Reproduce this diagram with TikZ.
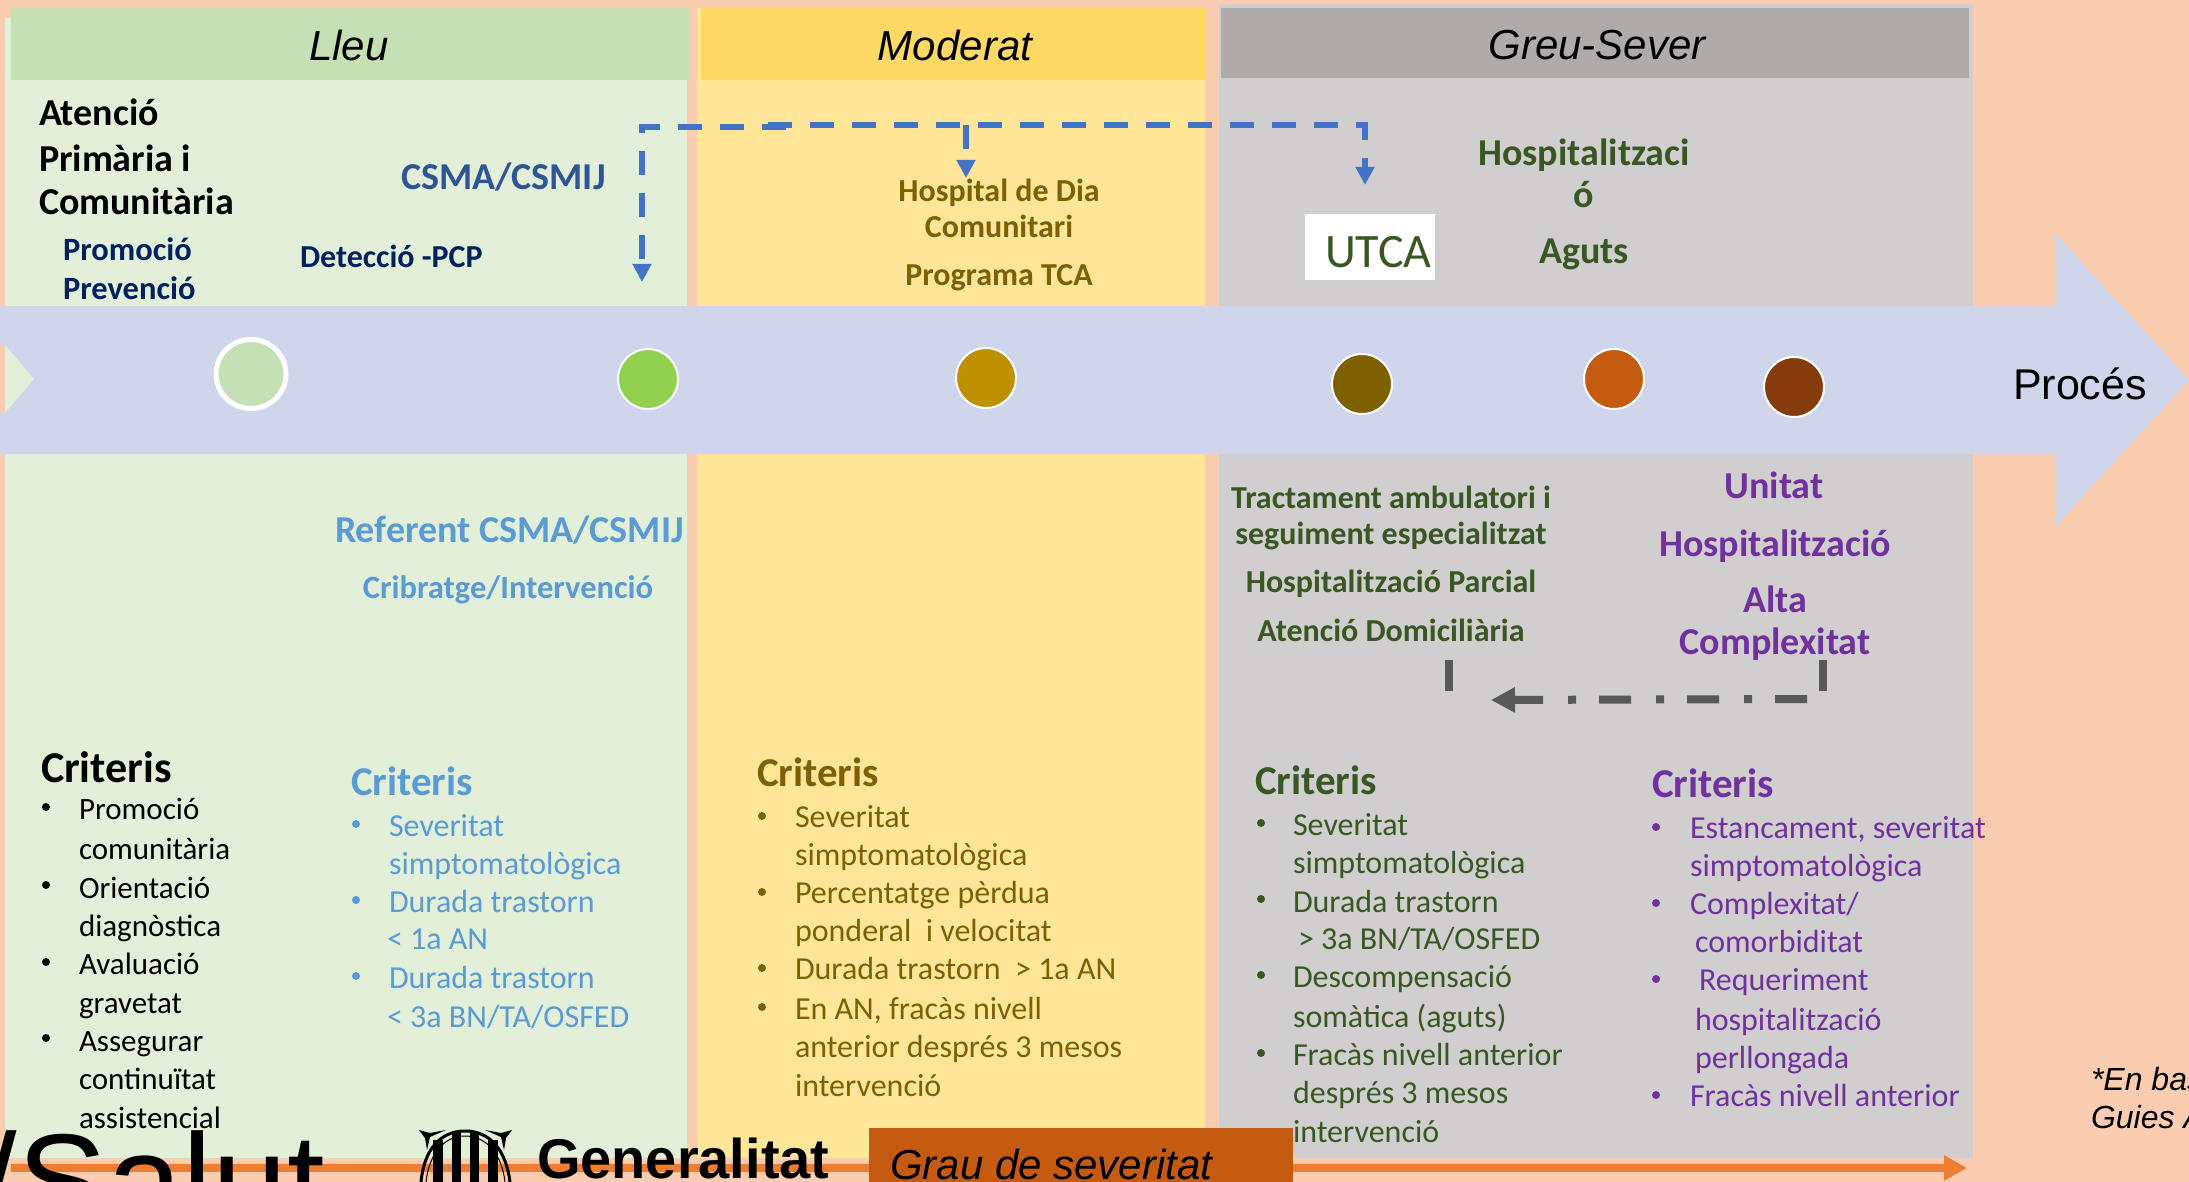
\documentclass[tikz,border=0pt]{standalone}
\usepackage{fontspec}
\setmainfont{Carlito}
\newfontfamily\arialf{Liberation Sans}
\usetikzlibrary{arrows.meta,calc,shapes.geometric}
\definecolor{bgpeach}{HTML}{FBCDB0}
\definecolor{lleuhead}{HTML}{C5E0B4}
\definecolor{lleubody}{HTML}{E2EFD9}
\definecolor{modhead}{HTML}{FFD966}
\definecolor{modbody}{HTML}{FFE699}
\definecolor{greuhead}{HTML}{AFABAB}
\definecolor{greubody}{HTML}{D0CECE}
\definecolor{band}{HTML}{CFD5EA}
\definecolor{navy}{HTML}{002060}
\definecolor{midblue}{HTML}{2F5597}
\definecolor{skyb}{HTML}{5B9BD5}
\definecolor{dashb}{HTML}{4472C4}
\definecolor{olive}{HTML}{7F6000}
\definecolor{dgreen}{HTML}{385723}
\definecolor{purp}{HTML}{7030A0}
\definecolor{dgray}{HTML}{595959}
\definecolor{orangeline}{HTML}{ED7D31}
\definecolor{burnt}{HTML}{C55A11}
\definecolor{limeg}{HTML}{92D050}
\definecolor{amberc}{HTML}{BF9000}
\definecolor{brownc}{HTML}{843C0C}
\tikzset{
  x=1pt,y=-1pt,
  base/.style={inner sep=0pt,outer sep=0pt,anchor=base west},
  cbase/.style={inner sep=0pt,outer sep=0pt,anchor=base},
  head/.style={cbase,font=\arialf\itshape\fontsize{42}{42}\selectfont},
  crit/.style={base,text=#1,font=\bfseries\fontsize{41}{41}\selectfont},
  item/.style={base,text=#1,font=\fontsize{32}{32}\selectfont},
  bul/.style={circle,fill=#1,minimum size=8pt,inner sep=0pt,draw=none},
  boldc/.style args={#1/#2}{cbase,text=#1,font=\bfseries\fontsize{#2}{#2}\selectfont},
  boldl/.style args={#1/#2}{base,text=#1,font=\bfseries\fontsize{#2}{#2}\selectfont},
  stage/.style={ellipse,fill=#1,draw=white,line width=2pt,minimum width=60pt,minimum height=60pt,inner sep=0pt},
  flowb/.style={draw=dashb,line width=6.5pt,dash pattern=on 24pt off 18pt},
  tipb/.style={-{Triangle[length=18pt,width=18pt]}},
}
\begin{document}
\begin{tikzpicture}
\useasboundingbox (0,0) rectangle (2189,1182);
\clip (0,0) rectangle (2189,1182);
\fill[bgpeach] (0,0) rectangle (2189,1182);
% panels
\fill[lleubody] (5,18) rectangle (687,1158);
\fill[lleuhead] (11,8) rectangle (689,80);
\fill[modbody] (697,8) rectangle (1205,1158);
\fill[modhead] (701,8) rectangle (1205,80);
\fill[greubody] (1219,4) rectangle (1973,1158);
\fill[greuhead] (1221,8) rectangle (1969,78);
% process band
\fill[band] (0,306) -- (2055,306) -- (2055,233) -- (2189,380) -- (2055,527) -- (2055,454) -- (0,454) -- cycle;
\fill[lleubody] (5,345) -- (34,379) -- (5,413) -- cycle;
\fill[bgpeach] (0,345) rectangle (5,413);
% headers
\node[head] (hl) at (349,61) {Lleu};
\node[head] (hm) at (955,61) {Moderat};
\node[head] (hg) at (1597,60) {Greu-Sever};
% stages
\node[ellipse,fill=lleuhead,draw=white,line width=5pt,minimum width=70pt,minimum height=69pt,inner sep=0pt] (s1) at (251,374) {};
\node[stage=limeg] (s2) at (648,379) {};
\node[stage=amberc] (s3) at (986,378) {};
\node[stage=olive] (s4) at (1362,384) {};
\node[stage=burnt] (s5) at (1614,379) {};
\node[stage=brownc] (s6) at (1794,387) {};
% top texts
\node[boldl=black/38] (a1) at (39,126) {Atenció};
\node[boldl=black/38] (a2) at (39,172) {Primària i};
\node[boldl=black/38] (a3) at (39,215) {Comunitària};
\node[boldl=navy/32.5] (p1) at (63,261) {Promoció};
\node[boldl=navy/32.5] (p2) at (63,299) {Prevenció};
\node[boldl=midblue/38] (csma) at (401,190) {CSMA/CSMIJ};
\node[boldl=navy/32] (det) at (300,268) {Detecció -PCP};
\node[boldc=olive/32] (h1) at (999,202) {Hospital de Dia};
\node[boldc=olive/32] (h2) at (999,238) {Comunitari};
\node[boldc=olive/32] (h3) at (999,285) {Programa TCA};
\fill[white] (1305,214) rectangle (1435,280);
\node[base,text=dgreen,font=\fontsize{48}{48}\selectfont] (utca) at (1325,268) {UTCA};
\node[boldc=dgreen/38] (ha1) at (1584,166) {Hospitalitzaci};
\node[boldc=dgreen/38] (ha2) at (1584,208) {ó};
\node[boldc=dgreen/38] (ha3) at (1584,264) {Aguts};
\node[base,font=\arialf\fontsize{43}{43}\selectfont] (proc) at (2013,399) {Procés};
% lower headings
\node[boldl=skyb/38] (r1) at (335,542) {Referent CSMA/CSMIJ};
\node[boldc=skyb/32.5] (r2) at (508,598) {Cribratge/Intervenció};
\node[boldc=dgreen/32] (t1) at (1391,508) {Tractament ambulatori i};
\node[boldc=dgreen/32] (t2) at (1391,544) {seguiment especialitzat};
\node[boldc=dgreen/32] (t3) at (1391,592) {Hospitalització Parcial};
\node[boldc=dgreen/32] (t4) at (1391,641) {Atenció Domiciliària};
\node[boldc=purp/38] (u1) at (1774,498) {Unitat};
\node[boldc=purp/38] (u2) at (1775,556) {Hospitalització};
\node[boldc=purp/38] (u3) at (1775,612) {Alta};
\node[boldc=purp/38] (u4) at (1775,654) {Complexitat};
% criteris black
\node[boldl=black/44] (c1) at (41,782) {Criteris};
\foreach \yy/\tx in {819/{Promoció},859/{comunitària},898/{Orientació},936/{diagnòstica},974/{Avaluació},1013/{gravetat},1051/{Assegurar},1089/{continuïtat},1128/{assistencial}}
  \node[item=black,font=\fontsize{31}{31}\selectfont] at (79,\yy) {\tx};
\foreach \yy in {807,885,962,1038} \node[bul=black] at (46,\yy) {};
% criteris sky
\node[crit=skyb] (c2) at (351,795) {Criteris};
\foreach \yy/\xx/\tx in {836/389/{Severitat},874/389/{simptomatològica},912/389/{Durada trastorn},949/387/{< 1a AN},988/389/{Durada trastorn},1027/387/{< 3a BN/TA/OSFED}}
  \node[item=skyb] at (\xx,\yy) {\tx};
\foreach \yy in {824,900,976} \node[bul=skyb] at (356,\yy) {};
% criteris moderat
\node[crit=olive] (c3) at (757,786) {Criteris};
\foreach \yy/\tx in {827/{Severitat},865/{simptomatològica},903/{Percentatge pèrdua},941/{ponderal\ \ i velocitat},979/{Durada trastorn\ \ > 1a AN},1019/{En AN, fracàs nivell},1057/{anterior després 3 mesos},1096/{intervenció}}
  \node[item=olive] at (795,\yy) {\tx};
\foreach \yy in {816,892,968,1007} \node[bul=olive] at (762,\yy) {};
% criteris greu
\node[crit=dgreen] (c4) at (1255,794) {Criteris};
\foreach \yy/\xx/\tx in {835/1293/{Severitat},873/1293/{simptomatològica},912/1293/{Durada trastorn},949/1298/{> 3a BN/TA/OSFED},987/1293/{Descompensació},1027/1293/{somàtica (aguts)},1065/1293/{Fracàs nivell anterior},1103/1293/{després 3 mesos},1142/1293/{intervenció}}
  \node[item=dgreen] at (\xx,\yy) {\tx};
\foreach \yy in {823,899,975,1053} \node[bul=dgreen] at (1261,\yy) {};
% criteris purple
\node[crit=purp] (c5) at (1652,797) {Criteris};
\foreach \yy/\xx/\tx in {838/1690/{Estancament, severitat},876/1690/{simptomatològica},914/1690/{Complexitat/},952/1695/{comorbiditat},990/1699/{Requeriment},1030/1695/{hospitalització},1068/1695/{perllongada},1106/1690/{Fracàs nivell anterior}}
  \node[item=purp] at (\xx,\yy) {\tx};
\foreach \yy in {827,903,979,1095} \node[bul=purp] at (1656,\yy) {};
% dashed connectors
\coordinate (d0) at (786,127);
\coordinate (d1) at (642,127);
\coordinate (d2) at (642,282);
\coordinate (d3) at (768,125);
\coordinate (d4) at (1365,125);
\coordinate (d5) at (1365,185);
\coordinate (d6) at (966,125);
\coordinate (d7) at (966,178);
\draw[flowb,tipb] (d0) -- (d1) -- (d2);
\draw[flowb,tipb] (d3) -- (d4) -- (d5);
\draw[flowb,tipb] (d6) -- (d7);
% gray connector
\coordinate (g1) at (1823,660);
\coordinate (g2) at (1823,691);
\coordinate (g3) at (1807,699);
\coordinate (g4) at (1491,700);
\coordinate (g5) at (1449,660);
\coordinate (g6) at (1449,691);
\draw[dgray,line width=8pt] (g1) -- (g2);
\draw[dgray,line width=8pt] (g5) -- (g6);
\draw[dgray,line width=8pt,dash pattern=on 32pt off 23pt on 8pt off 25pt,-{Triangle[length=24pt,width=24pt]}] (g3) -- (g4);
% orange axis
\coordinate (o1) at (11,1168);
\coordinate (o2) at (1967,1168);
\draw[orangeline,line width=8pt,-{Triangle[length=23pt,width=24pt]}] (o1) -- (o2);
% logos and bottom
\node[base,font=\arialf\fontsize{135}{135}\selectfont] (salut) at (-20.5,1228) {/Salut};
% emblem
\fill[black] (433,1140) rectangle (443,1182);
\fill[black] (452,1132) rectangle (461,1182);
\fill[black] (470,1132) rectangle (479,1182);
\fill[black] (488,1140) rectangle (498,1182);
\draw[black,line width=3pt] (421,1182) .. controls (424,1150) and (440,1131) .. (465,1131) .. controls (490,1131) and (506,1150) .. (510,1182);
\draw[black,line width=1pt] (426,1182) .. controls (429,1155) and (443,1136) .. (465,1136) .. controls (487,1136) and (502,1155) .. (505,1182);
\fill[black] (419,1130) -- (430,1133) -- (446,1130) -- (430,1137) -- (427,1150) -- (425,1138) -- cycle;
\fill[black] (512,1130) -- (501,1133) -- (485,1130) -- (501,1137) -- (504,1150) -- (506,1138) -- cycle;
\node[base,font=\arialf\bfseries\fontsize{56}{56}\selectfont] (gen) at (537,1178) {Generalitat};
\fill[burnt] (869,1128) rectangle (1293,1182);
\node[base,font=\arialf\itshape\fontsize{42}{42}\selectfont] (grau) at (890,1179) {Grau de severitat};
\node[base,font=\arialf\itshape\fontsize{32}{32}\selectfont] (n1) at (2091,1090) {*En bas};
\node[base,font=\arialf\itshape\fontsize{32}{32}\selectfont] (n2) at (2091,1128) {Guies A};
\end{tikzpicture}
\end{document}
